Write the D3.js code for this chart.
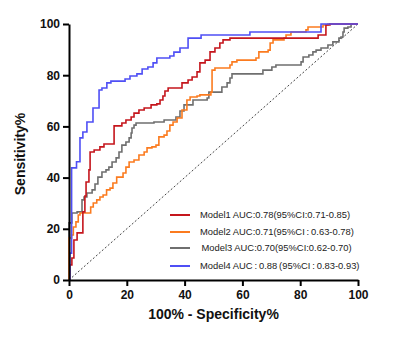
<!DOCTYPE html>
<html>
<head>
<meta charset="utf-8">
<script src="https://cdn.jsdelivr.net/npm/d3@7"></script>
<style>
  body { margin: 0; background: #fff; }
  svg { font-family: Arial, "Liberation Sans", sans-serif; }
  .axis path, .axis line { stroke: #000; stroke-width: 2; }
  .axis text { font-size: 12px; font-weight: bold; fill: #111; }
  .axis_title { font-size: 14px; font-weight: bold; fill: #111; }
  .legend text { font-size: 9.4px; fill: #222; }
</style>
</head>
<body>
<svg id="roc"></svg>
<script>
// set the dimensions and margins of the graph
var margin = {top: 24, right: 42, bottom: 61, left: 69},
    width = 400 - margin.left - margin.right,
    height = 341 - margin.top - margin.bottom;

var ticks = [0, 20, 40, 60, 80, 100];

// curves: [100-specificity, sensitivity]
var model1 = [[0,0],[0.3,5.9],[1.0,8.6],[1.7,15.6],[2.8,18.4],[4.8,26.6],[5.5,32.8],[5.9,38.3],[6.9,43],[7.3,50],
  [8.7,50.8],[10.7,52],[12.1,53.1],[15.6,60.2],[18.3,61.3],[19.7,62.5],[21.5,63.7],[22.5,65.2],[24.2,66.4],[26,67.2],
  [28.4,68.4],[30.4,68.8],[31.5,70.3],[32.5,71.9],[33.2,73.8],[34.3,75],[39.1,77],[41.2,78.1],[42.6,79.3],[44.3,81.3],
  [45.3,84.8],[47.1,85.9],[48.8,89.1],[50.5,90.6],[52.2,92.6],[53.3,93.8],[55.7,94.5],[86.2,95.7],[88.9,99.6],[90.3,100],[100,100]];
var model2 = [[0,0],[0,16.4],[0.9,17.6],[1.5,20.7],[2.4,22.7],[3.2,25.4],[3.8,26.2],[7.5,28.5],[8.4,30.1],[9.6,31.3],
  [10.7,32.4],[11.8,33.2],[13,35.2],[14.2,35.9],[15.2,37.9],[16.5,40.2],[18.7,41.8],[19.7,44.1],[20.8,46.1],[22.5,46.9],
  [24.2,48.8],[26,50],[27,51.6],[28.7,52],[30.1,52.7],[31.1,55.9],[32.9,56.6],[33.9,58.2],[34.9,60.5],[36,61.7],
  [37.4,63.3],[39.1,66.4],[40.8,70.3],[41.9,71.5],[44.3,71.9],[45.3,72.3],[49.1,73.4],[49.5,82],[50.5,82.8],[55.7,84],
  [56.4,85.2],[58.1,85.9],[64.7,86.7],[65.7,89.1],[68.9,89.8],[69.6,92.6],[70.6,93.8],[74.4,94.5],[75.1,95.7],[76.8,96.9],
  [82,97.7],[82.7,98.8],[87.9,99.6],[89.6,100],[100,100]];
var model3 = [[0,0],[0,22.3],[1.0,26.2],[2.8,26.6],[4.5,31.3],[5.2,32.4],[6.2,34],[8.0,35.2],[9.0,37.5],[10.0,40.2],
  [11.4,42.2],[12.8,43],[13.8,44.1],[14.9,46.1],[16.3,47.7],[17.3,50],[18.3,52.7],[19.7,53.9],[20.8,55.5],[21.5,57.4],
  [21.8,59.4],[22.5,60.5],[23.2,61.3],[29.4,61.7],[32.9,62.5],[37,63.7],[38.4,66],[39.8,68.4],[42.9,70.3],[47.8,71.1],
  [48.4,73.4],[52.9,75.4],[54.7,77],[55.7,78.9],[56.4,80.5],[67.1,82],[70.2,83.2],[71.6,84],[80.3,85.2],[81,87.1],
  [83,87.9],[84.4,89.1],[85.5,89.8],[87.2,90.6],[89.6,91.8],[91.3,93],[93.4,94.5],[94.1,94.9],[94.8,96.9],[95.2,98.4],
  [96.5,98.8],[97.6,100],[100,100]];
var model4 = [[0,0],[0.3,10.5],[0.9,43.8],[2.6,46.2],[3.8,55.5],[4.8,57.8],[6.2,61.7],[8.3,67.2],[10.4,74.2],[11.4,75],
  [13.1,77],[14.5,77.7],[19.4,78.5],[21.1,79.7],[23.5,80.5],[25.3,82.4],[27.3,83.2],[29.1,84.8],[30.4,86.7],[34.9,87.5],
  [36.3,89],[38.4,90.6],[41.2,94.5],[45.7,95.7],[62.6,96.9],[87.2,100],[100,100]];

var labels = ["Model1 AUC:0.78(95%CI:0.71-0.85)",
              "Model2 AUC:0.71(95%CI\u2009:\u20090.63-0.78)",
              "Model3 AUC:0.70(95%CI:0.62-0.70)",
              "Model4 AUC\u2009:\u20090.88\u2009(95%CI\u2009:\u20090.83-0.93)"];
var colors = ["#c5161d", "#fb7b1f", "#6f6f6f", "#4f4ff5"];
var series = [model1, model2, model3, model4];

var svg = d3.select("#roc")
    .attr("width", width + margin.left + margin.right)
    .attr("height", height + margin.top + margin.bottom)
  .append("g")
    .attr("transform", "translate(" + margin.left + "," + margin.top + ")");

var x = d3.scaleLinear().domain([0, 100]).range([0, width]);
var y = d3.scaleLinear().domain([0, 100]).range([height, 0]);

// reference diagonal
svg.append("line")
  .attr("x1", x(0)).attr("y1", y(0))
  .attr("x2", x(100)).attr("y2", y(100))
  .attr("stroke", "#444")
  .attr("stroke-width", 1)
  .attr("stroke-dasharray", "2,2");

var line = d3.line()
  .x(d => x(d[0]))
  .y(d => y(d[1]))
  .curve(d3.curveStepAfter);

// draw gray/orange/red first so blue sits over them like the picture
[2, 1, 0, 3].forEach(function(i) {
  svg.append("path")
    .datum(series[i])
    .attr("d", line)
    .attr("fill", "none")
    .attr("stroke", colors[i])
    .attr("stroke-width", 1.6);
});

// axes
svg.append("g")
  .attr("class", "axis")
  .attr("transform", "translate(0," + height + ")")
  .call(d3.axisBottom(x).tickValues(ticks).tickSize(6).tickSizeOuter(0).tickPadding(4));

svg.append("g")
  .attr("class", "axis")
  .call(d3.axisLeft(y).tickValues(ticks).tickSize(6).tickSizeOuter(0).tickPadding(3));

// axis titles
svg.append("text")
  .attr("class", "axis_title")
  .attr("text-anchor", "middle")
  .attr("x", x(50))
  .attr("y", height + 39)
  .text("100% - Specificity%");

svg.append("text")
  .attr("class", "axis_title")
  .attr("text-anchor", "middle")
  .attr("transform", "translate(-44," + (height / 2 + 2) + ")rotate(-90)")
  .text("Sensitivity%");

// legend
var legend = svg.append("g").attr("class", "legend");
var ly = [191, 208, 224, 242];
labels.forEach(function(t, i) {
  legend.append("line")
    .attr("x1", 101).attr("x2", 121)
    .attr("y1", ly[i]).attr("y2", ly[i])
    .attr("stroke", colors[i])
    .attr("stroke-width", 2);
  legend.append("text")
    .attr("x", i == 2 ? 132.5 : 131)
    .attr("y", ly[i] + 3.3)
    .text(t);
});
</script>
</body>
</html>
